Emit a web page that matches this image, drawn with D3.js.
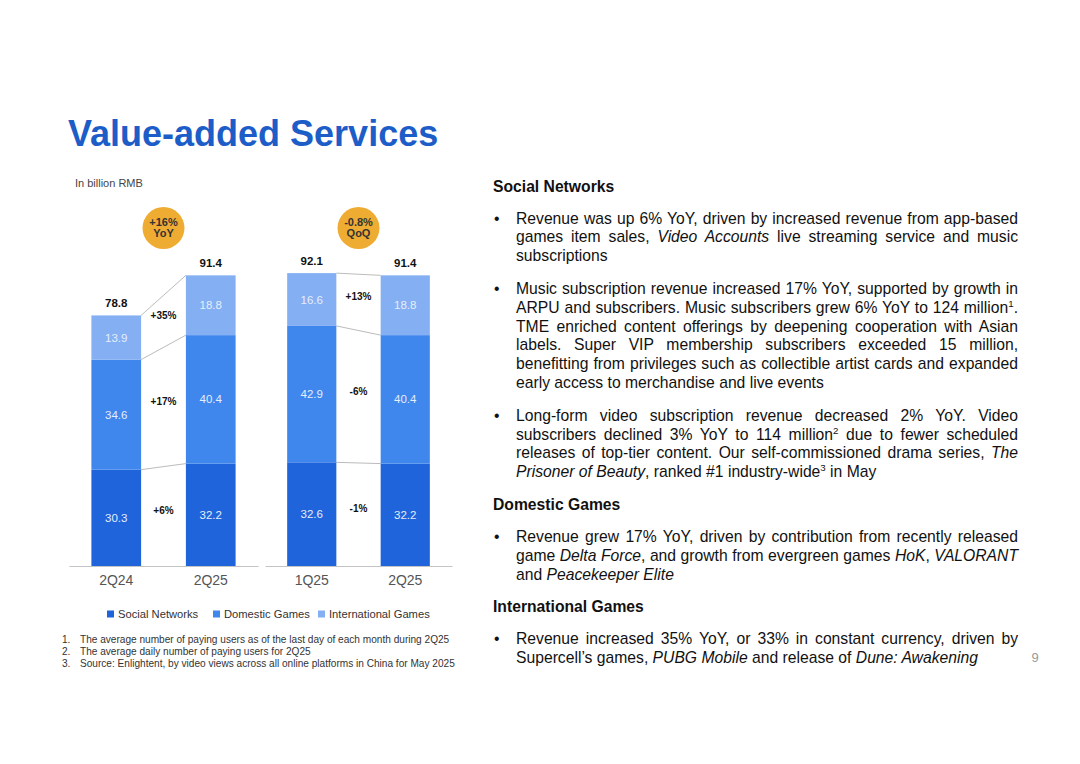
<!DOCTYPE html>
<html>
<head>
<meta charset="utf-8">
<script src="https://cdn.jsdelivr.net/npm/d3@7"></script>
<style>
  body { margin: 0; background: #fff; }
  svg { font-family: "Liberation Sans", Arial, sans-serif; }
</style>
</head>
<body>
<script>
// chart data, billion RMB
var series = ["Social Networks", "Domestic Games", "International Games"];
var quartersYoY = ["2Q24", "2Q25"];
var quartersQoQ = ["1Q25", "2Q25"];
var socialYoY = [30.3, 32.2];
var domesticYoY = [34.6, 40.4];
var intlYoY = [13.9, 18.8];
var totalsYoY = [78.8, 91.4];
var socialQoQ = [32.6, 32.2];
var domesticQoQ = [42.9, 40.4];
var intlQoQ = [16.6, 18.8];
var totalsQoQ = [92.1, 91.4];
var growthYoY = ["+6%", "+17%", "+35%"];
var growthQoQ = ["-1%", "-6%", "+13%"];
var badgeYoY = ["+16%", "YoY"];
var badgeQoQ = ["-0.8%", "QoQ"];

var footnotes = [
  "The average number of paying users as of the last day of each month during 2Q25",
  "The average daily number of paying users for 2Q25",
  "Source: Enlightent, by video views across all online platforms in China for May 2025"
];

// right column text: *italic*, ^n superscript
var sections = [
  { head: "Social Networks", bullets: [
    ["Revenue was up 6% YoY, driven by increased revenue from app-based",
     "games item sales, *Video Accounts* live streaming service and music",
     "subscriptions"],
    ["Music subscription revenue increased 17% YoY, supported by growth in",
     "ARPU and subscribers. Music subscribers grew 6% YoY to 124 million^1.",
     "TME enriched content offerings by deepening cooperation with Asian",
     "labels. Super VIP membership subscribers exceeded 15 million,",
     "benefitting from privileges such as collectible artist cards and expanded",
     "early access to merchandise and live events"],
    ["Long-form video subscription revenue decreased 2% YoY. Video",
     "subscribers declined 3% YoY to 114 million^2 due to fewer scheduled",
     "releases of top-tier content. Our self-commissioned drama series, *The*",
     "*Prisoner of Beauty*, ranked #1 industry-wide^3 in May"]
  ]},
  { head: "Domestic Games", bullets: [
    ["Revenue grew 17% YoY, driven by contribution from recently released",
     "game *Delta Force*, and growth from evergreen games *HoK*, *VALORANT*",
     "and *Peacekeeper Elite*"]
  ]},
  { head: "International Games", bullets: [
    ["Revenue increased 35% YoY, or 33% in constant currency, driven by",
     "Supercell\u2019s games, *PUBG Mobile* and release of *Dune: Awakening*"]
  ]}
];

var colors = ["#1f64da", "#3f86ed", "#84aff2"];
var width = 1080, height = 764;

var svg = d3.select("body").append("svg")
  .attr("width", width)
  .attr("height", height);

svg.append("text")
  .attr("x", 68).attr("y", 146)
  .attr("font-size", 36).attr("font-weight", "bold")
  .attr("fill", "#1d5dc8")
  .text("Value-added Services");

svg.append("text")
  .attr("x", 75).attr("y", 187)
  .attr("font-size", 11).attr("fill", "#444")
  .text("In billion RMB");

var y = d3.scaleLinear().domain([0, 100]).range([566, 248]);

function panel(range, quarters, social, domestic, intl, totals, growth, badge) {
  var x = d3.scaleBand().domain(quarters).range(range)
    .paddingInner(0.474).paddingOuter(0.237);
  var bw = x.bandwidth();
  var stacks = quarters.map(function(q, i) {
    var vals = [social[i], domestic[i], intl[i]];
    var y0 = 0;
    return vals.map(function(v, k) {
      var seg = { q: q, k: k, v: v, y0: y0, y1: y0 + v };
      y0 += v;
      return seg;
    });
  });
  var g = svg.append("g");

  // connector lines between bars
  for (var k = 0; k < 3; k++) {
    g.append("line")
      .attr("x1", x(quarters[0]) + bw).attr("y1", y(stacks[0][k].y1))
      .attr("x2", x(quarters[1])).attr("y2", y(stacks[1][k].y1))
      .attr("stroke", "#a9a9a9").attr("stroke-width", 0.8);
  }

  var segs = stacks[0].concat(stacks[1]);
  g.selectAll(".seg").data(segs).enter().append("rect")
    .attr("class", "seg")
    .attr("x", function(d) { return x(d.q); })
    .attr("width", bw)
    .attr("y", function(d) { return y(d.y1); })
    .attr("height", function(d) { return y(d.y0) - y(d.y1); })
    .attr("fill", function(d) { return colors[d.k]; });

  g.selectAll(".segl").data(segs).enter().append("text")
    .attr("x", function(d) { return x(d.q) + bw / 2; })
    .attr("y", function(d) { return (y(d.y0) + y(d.y1)) / 2 + 4; })
    .attr("text-anchor", "middle")
    .attr("font-size", 11.5)
    .attr("fill", "#e6eefb")
    .text(function(d) { return d.v.toFixed(1); });

  g.selectAll(".tot").data(quarters).enter().append("text")
    .attr("x", function(d) { return x(d) + bw / 2; })
    .attr("y", function(d, i) { return y(totals[i]) - 8; })
    .attr("text-anchor", "middle")
    .attr("font-size", 11.5).attr("font-weight", "bold")
    .attr("fill", "#111")
    .text(function(d, i) { return totals[i].toFixed(1); });

  var mid = (range[0] + range[1]) / 2;
  g.selectAll(".gr").data(growth).enter().append("text")
    .attr("x", mid)
    .attr("y", function(d, k) {
      var a = stacks[0][k], b = stacks[1][k];
      return (y((a.y0 + a.y1) / 2) + y((b.y0 + b.y1) / 2)) / 2 - 2;
    })
    .attr("text-anchor", "middle")
    .attr("font-size", 10).attr("font-weight", "bold")
    .attr("fill", "#111")
    .text(function(d) { return d; });

  g.append("circle")
    .attr("cx", mid).attr("cy", 228).attr("r", 21)
    .attr("fill", "#efac33");
  g.selectAll(".bd").data(badge).enter().append("text")
    .attr("x", mid)
    .attr("y", function(d, i) { return 226 + i * 11; })
    .attr("text-anchor", "middle")
    .attr("font-size", 11).attr("font-weight", "bold")
    .attr("fill", "#333")
    .text(function(d) { return d; });

  var ax = g.append("g")
    .attr("transform", "translate(0," + y(0) + ")")
    .call(d3.axisBottom(x).tickSize(0).tickSizeOuter(0).tickPadding(9));
  ax.select(".domain").attr("stroke", "#c4c4c4").attr("stroke-width", 1.2);
  ax.selectAll("text")
    .attr("font-size", 14)
    .attr("font-family", "Liberation Sans, Arial, sans-serif")
    .attr("fill", "#555");
}

panel([69, 258], quartersYoY, socialYoY, domesticYoY, intlYoY, totalsYoY, growthYoY, badgeYoY);
panel([265, 452], quartersQoQ, socialQoQ, domesticQoQ, intlQoQ, totalsQoQ, growthQoQ, badgeQoQ);

// legend
var legend = svg.append("g").attr("transform", "translate(107,614)");
var lx = [0, 106, 211];
series.forEach(function(s, i) {
  legend.append("rect")
    .attr("x", lx[i]).attr("y", -3.5).attr("width", 7).attr("height", 7)
    .attr("fill", colors[i]);
  legend.append("text")
    .attr("x", lx[i] + 11).attr("y", 4)
    .attr("font-size", 11.2).attr("fill", "#333")
    .text(s);
});

// footnotes
footnotes.forEach(function(f, i) {
  svg.append("text").attr("x", 62).attr("y", 643 + i * 12)
    .attr("font-size", 10.1).attr("fill", "#333").text((i + 1) + ".");
  svg.append("text").attr("x", 80).attr("y", 643 + i * 12)
    .attr("font-size", 10.1).attr("fill", "#333").text(f);
});

// right column
var fs = 15.7;
function richLine(x, yy, str, justify, w) {
  var t = svg.append("text").attr("x", x).attr("y", yy)
    .attr("font-size", fs).attr("fill", "#111")
    .attr("xml:space", "preserve");
  var parts = str.split(/(\*[^*]+\*|\^\d)/).filter(function(p) { return p.length; });
  var plain = "";
  var pending = 0;
  parts.forEach(function(p) {
    var s;
    if (p[0] === "*") {
      s = t.append("tspan").attr("font-style", "italic").text(p.slice(1, -1));
      plain += p.slice(1, -1);
    } else if (p[0] === "^") {
      s = t.append("tspan").attr("font-size", fs * 0.62).text(p.slice(1));
      plain += p.slice(1);
      s.attr("dy", -6 + pending);
      pending = 6;
      return;
    } else {
      s = t.append("tspan").text(p);
      plain += p;
    }
    if (pending) { s.attr("dy", pending); pending = 0; }
  });
  if (justify) {
    var nat = t.node().getComputedTextLength();
    var spaces = (plain.match(/ /g) || []).length;
    if (spaces) t.attr("word-spacing", (w - nat) / spaces);
  }
}

var yy = 191.5;
var lh = 18.9;
sections.forEach(function(sec) {
  svg.append("text").attr("x", 493).attr("y", yy)
    .attr("font-size", fs).attr("font-weight", "bold").attr("fill", "#111")
    .text(sec.head);
  yy += 32;
  sec.bullets.forEach(function(lines) {
    svg.append("text").attr("x", 494).attr("y", yy)
      .attr("font-size", fs).attr("fill", "#111").text("\u2022");
    lines.forEach(function(l, i) {
      var last = i === lines.length - 1;
      richLine(516, yy, l, !last, 502);
      yy += lh;
    });
    yy += 13.5;
  });
});

svg.append("text").attr("x", 1035).attr("y", 662)
  .attr("font-size", 13).attr("fill", "#999").attr("text-anchor", "middle")
  .text("9");
</script>
</body>
</html>
